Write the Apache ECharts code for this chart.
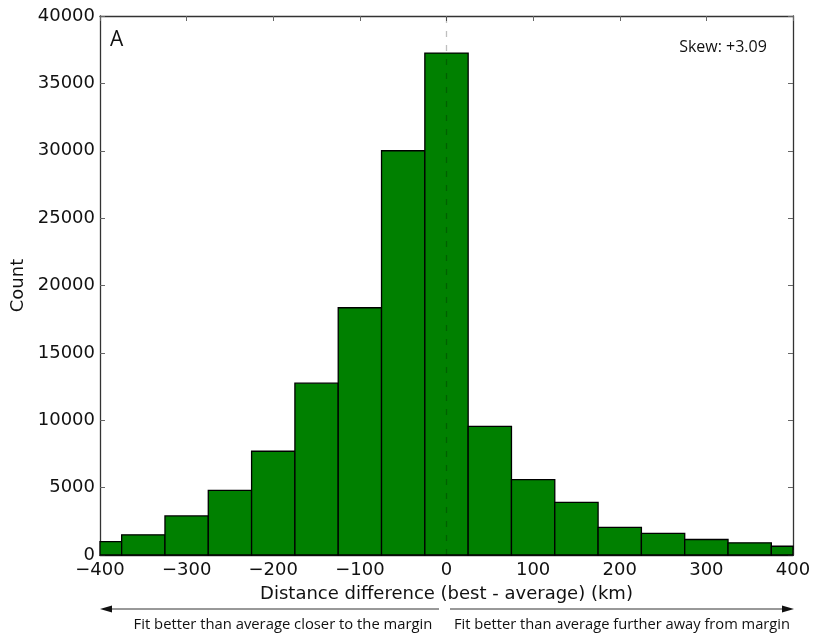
<!DOCTYPE html>
<html>
<head>
<meta charset="utf-8">
<script src="https://cdn.jsdelivr.net/npm/echarts@6/dist/echarts.min.js"></script>
<style>html,body{margin:0;padding:0;background:#fff}#c{width:815px;height:639px}</style>
</head>
<body>
<div id="c"></div>
<script>
const binStart = [-400,-375,-325,-275,-225,-175,-125,-75,-25,25,75,125,175,225,275,325,375];
const binEnd   = [-375,-325,-275,-225,-175,-125,-75,-25,25,75,125,175,225,275,325,375,400];
const counts   = [1000,1500,2900,4800,7700,12750,18350,30000,37250,9550,5600,3900,2050,1600,1150,900,650];
const xTicks = [-400,-300,-200,-100,0,100,200,300,400];
const yTicks = [0,5000,10000,15000,20000,25000,30000,35000,40000];

const data = binStart.map((s,i)=>[s, binEnd[i], counts[i]]);
const fmtX = v => v < 0 ? '\u2212' + Math.abs(v) : String(v);
const tickFont = {fontFamily:'DejaVu Sans', fontSize:18, color:'#111'};
const chart = echarts.init(document.getElementById('c'), null, {renderer:'canvas'});
const axisLine = {show:true, onZero:false, lineStyle:{color:'#333', width:1.3}};
const axisTick = {show:true, inside:true, length:5, lineStyle:{color:'#666', width:1}};
chart.setOption({
  animation:false,
  grid:{left:100, right:22, top:16, bottom:84},
  xAxis:[{
    type:'value', min:xTicks[0], max:xTicks[xTicks.length-1], interval:100,
    axisLine, axisTick, splitLine:{show:false},
    axisLabel:{...tickFont, margin:6, formatter:fmtX},
    name:'Distance difference (best - average) (km)', nameLocation:'middle', nameGap:30,
    nameTextStyle:{fontFamily:'DejaVu Sans', fontSize:18, color:'#111'}
  },{
    type:'value', position:'top', min:-400, max:400, interval:100,
    axisLine, axisTick, axisLabel:{show:false}, splitLine:{show:false}
  }],
  yAxis:[{
    type:'value', min:yTicks[0], max:yTicks[yTicks.length-1], interval:5000,
    axisLine, axisTick, splitLine:{show:false},
    axisLabel:{...tickFont, margin:5, formatter:v=>String(v)},
    name:'Count', nameLocation:'middle', nameGap:68, nameRotate:90,
    nameTextStyle:{fontFamily:'DejaVu Sans', fontSize:18, color:'#111'}
  },{
    type:'value', position:'right', min:0, max:40000, interval:5000,
    axisLine, axisTick, axisLabel:{show:false}, splitLine:{show:false}
  }],
  series:[{
    type:'custom',
    data:data,
    encode:{x:[0,1], y:2},
    renderItem:function(params, api){
      const p0 = api.coord([api.value(0), api.value(2)]);
      const p1 = api.coord([api.value(1), 0]);
      return {type:'rect', shape:{x:p0[0], y:p0[1], width:p1[0]-p0[0], height:p1[1]-p0[1]},
        style:{fill:'#008000', stroke:'#000', lineWidth:1.3}};
    },
    markLine:{
      silent:true, symbol:['none','none'], z:10,
      label:{show:false},
      lineStyle:{type:[6,8], color:'rgba(0,0,0,0.25)', width:1.3},
      data:[{xAxis:0}]
    }
  }],
  graphic:[
    {type:'text', left:110, top:30, style:{text:'A', fontFamily:'Open Sans', fontSize:21, fill:'#111'}},
    {type:'text', x:723, y:47, style:{text:'Skew: +3.09', fontFamily:'Open Sans', fontSize:16, fill:'#111', align:'center', verticalAlign:'middle'}},
    {type:'line', shape:{x1:104, y1:609, x2:439, y2:609}, style:{stroke:'#333', lineWidth:1}},
    {type:'polygon', shape:{points:[[100,609],[112,605.5],[112,612.5]]}, style:{fill:'#111'}},
    {type:'line', shape:{x1:450, y1:609, x2:789, y2:609}, style:{stroke:'#333', lineWidth:1}},
    {type:'polygon', shape:{points:[[794,609],[782,605.5],[782,612.5]]}, style:{fill:'#111'}},
    {type:'text', x:283, y:625, style:{text:'Fit better than average closer to the margin', fontFamily:'Open Sans', fontSize:14.8, fill:'#111', align:'center', verticalAlign:'middle'}},
    {type:'text', x:622, y:625, style:{text:'Fit better than average further away from margin', fontFamily:'Open Sans', fontSize:14.7, fill:'#111', align:'center', verticalAlign:'middle'}}
  ]
});
</script>
</body>
</html>
